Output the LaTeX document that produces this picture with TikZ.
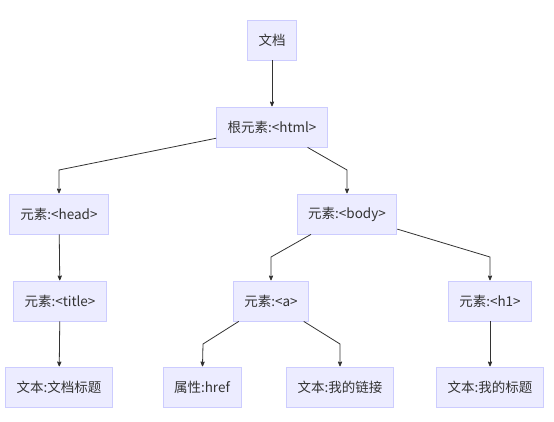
\documentclass[tikz,border=0pt]{standalone}
\usepackage{fontspec}
\setmainfont{Noto Sans CJK SC}
\usetikzlibrary{positioning, arrows, calc}
\definecolor{boxfill}{HTML}{ECECFF}
\definecolor{boxline}{HTML}{CCCCFF}
\definecolor{edgecol}{HTML}{333333}

\begin{document}
\begin{tikzpicture}[x=1pt,y=-1pt,->,>=stealth',shorten >=.2pt,line width=0.9pt,
  box/.style={draw=boxline, fill=boxfill, shape=rectangle, minimum height=40pt,
    inner xsep=11pt, text=edgecol, font=\fontsize{13.5}{15}\selectfont, line width=0.8pt},
  link/.style={draw=edgecol, line width=0.8pt}]
  \useasboundingbox (0,0) rectangle (554,422);

  % levels
  \node[box] (doc)   at (272,40)  {文档};
  \node[box] (html)  at (272,127) {根元素:<html>};
  \node[box] (head)  at (59,214)  {元素:<head>};
  \node[box] (body)  at (347,214) {元素:<body>};
  \node[box] (title) at (60,301)  {元素:<title>};
  \node[box] (a)     at (271,301) {元素:<a>};
  \node[box] (h1)    at (490,301) {元素:<h1>};
  \node[box] (doctext)  at (59,387)  {文本:文档标题};
  \node[box] (href)     at (202,387) {属性:href};
  \node[box] (linktext) at (340,387) {文本:我的链接};
  \node[box] (h1text)   at (490,387) {文本:我的标题};

  % bends
  \coordinate (khead) at (59,170);
  \coordinate (kbody) at (347,170);
  \coordinate (ka)    at (271,257);
  \coordinate (kh1)   at (490,257);
  \coordinate (khref) at (203,344);
  \coordinate (klink) at (340,344);

  \path[link]
    (doc) edge (html)
    (head) edge (title)
    (title) edge (doctext)
    (h1) edge (h1text);
  \draw[link] (html) -- (khead) -- (head);
  \draw[link] (html) -- (kbody) -- (body);
  \draw[link] (body) -- (ka) -- (a);
  \draw[link] (body) -- (kh1) -- (h1);
  \draw[link] (a) -- (khref) -- (href);
  \draw[link] (a) -- (klink) -- (linktext);
\end{tikzpicture}
\end{document}
